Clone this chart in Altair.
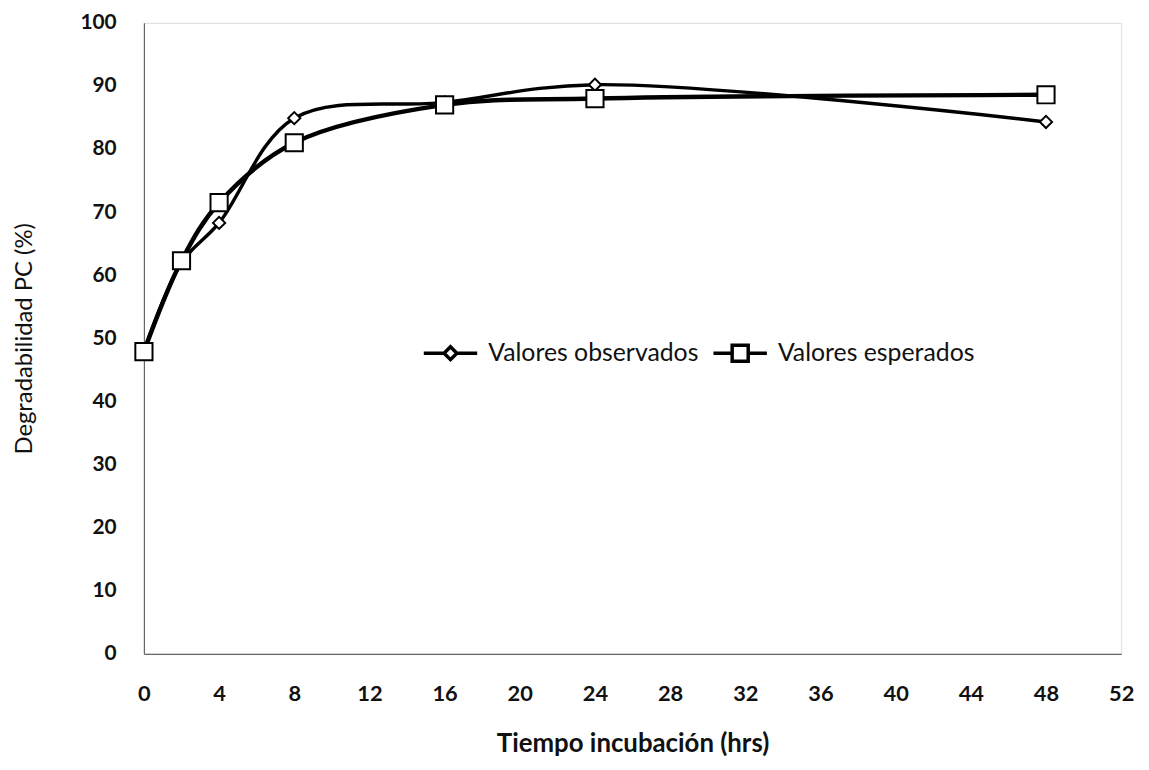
import altair as alt
import pandas as pd

time_hrs = [0, 2, 4, 8, 16, 24, 48]
observed = [48.0, 62.0, 68.3, 84.9, 87.4, 90.2, 84.3]
expected = [47.9, 62.3, 71.5, 81.0, 87.0, 88.0, 88.6]
series_names = ["Valores observados", "Valores esperados"]
x_ticks = list(range(0, 53, 4))
y_ticks = list(range(0, 101, 10))

obs_df = pd.DataFrame({"t": time_hrs, "v": observed, "serie": series_names[0]})
exp_df = pd.DataFrame({"t": time_hrs, "v": expected, "serie": series_names[1]})

FONT = "Lato"

x = alt.X("t:Q", scale=alt.Scale(domain=[0, 52], nice=False),
          axis=alt.Axis(values=x_ticks, title="Tiempo incubación (hrs)", grid=False,
                        ticks=False, labelPadding=30, labelFontSize=22, labelFontWeight="bold",
                        labelFont=FONT, labelColor="#111", titleFont=FONT, titleFontSize=26,
                        titleFontWeight="bold", titleColor="#111", titlePadding=26,
                        domainColor="#666", domainWidth=1.2, labelFlush=False))
y = alt.Y("v:Q", scale=alt.Scale(domain=[0, 100], nice=False),
          axis=alt.Axis(values=y_ticks, title="Degradabilidad PC (%)", grid=False,
                        ticks=False, labelPadding=28, labelFontSize=21, labelFontWeight="bold",
                        labelFont=FONT, labelColor="#111", titleFont=FONT, titleFontSize=24,
                        titleFontWeight="normal", titleColor="#111", titlePadding=44,
                        domainColor="#666", domainWidth=1.2))

diamond_leg = "M-1,0L-0.24,0M0.24,0L1,0M0,-0.24L0.24,0L0,0.24L-0.24,0Z"
square_leg = "M-1,0L-0.3,0M0.3,0L1,0M-0.3,-0.3L0.3,-0.3L0.3,0.3L-0.3,0.3Z"

leg_common = dict(title=None, orient="none", direction="horizontal", symbolSize=2900,
                  symbolStrokeWidth=3.5, symbolStrokeColor="black", symbolFillColor="white",
                  labelFont=FONT, labelFontSize=25, labelColor="#111", labelOffset=9,
                  labelLimit=400, symbolOpacity=1)

line_obs = alt.Chart(obs_df).mark_line(color="black", strokeWidth=3.5, interpolate="catmull-rom").encode(x=x, y=y)
line_exp = alt.Chart(exp_df).mark_line(color="black", strokeWidth=4.5, interpolate="catmull-rom").encode(x=x, y=y)

pts_obs = alt.Chart(obs_df).mark_point(shape="diamond", size=150, stroke="black", strokeWidth=2,
                                       opacity=1, fillOpacity=1).encode(
    x=x, y=y,
    fill=alt.Fill("serie:N", scale=alt.Scale(domain=[series_names[0]], range=["white"]),
                  legend=alt.Legend(symbolType=diamond_leg, legendX=280, legendY=304, **leg_common)),
)
pts_exp = alt.Chart(exp_df).mark_point(shape="square", size=300, fill="white", strokeWidth=2,
                                       opacity=1, fillOpacity=1).encode(
    x=x, y=y,
    stroke=alt.Stroke("serie:N", scale=alt.Scale(domain=[series_names[1]], range=["black"]),
                      legend=alt.Legend(symbolType=square_leg, legendX=572, legendY=304, **leg_common)),
)

chart = alt.layer(line_obs, line_exp, pts_obs, pts_exp).properties(
    width=985, height=636,
    autosize=alt.AutoSizeParams(type="none"),
    padding={"left": 137, "top": 12, "right": 20, "bottom": 100},
).configure_view(stroke=None).configure(background="white")

chart.save("out.html", embed_options={"renderer": "svg", "actions": False})
